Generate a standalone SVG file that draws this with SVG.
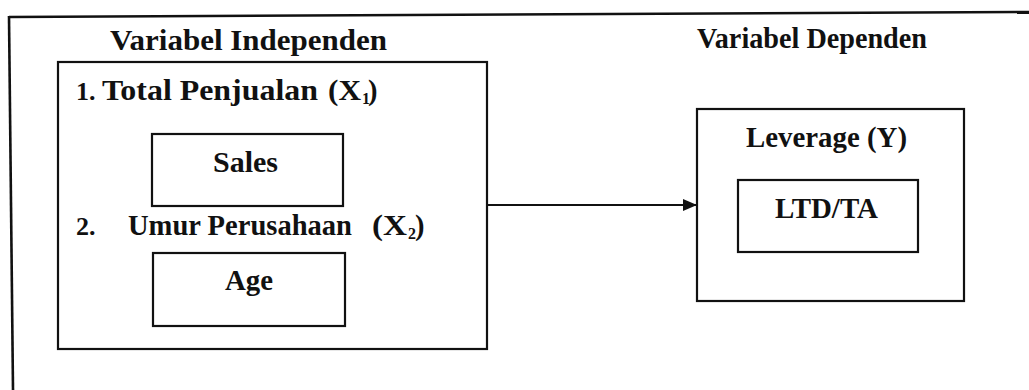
<svg xmlns="http://www.w3.org/2000/svg" width="1029" height="390" viewBox="0 0 1029 390">
  <style>
    .box { fill: none; stroke: #111; stroke-width: 2.2; }
    .frame { fill: none; stroke: #111; stroke-width: 2.6; }
    .lbl { font-family: "Liberation Serif", "Times New Roman", serif; font-weight: bold; font-size: 28.5px; fill: #111; }
    .num { font-family: "Liberation Serif", "Times New Roman", serif; font-weight: bold; font-size: 26px; fill: #111; }
    .sub { font-family: "Liberation Serif", "Times New Roman", serif; font-weight: bold; font-size: 16px; fill: #111; }
    .conn { stroke: #111; stroke-width: 2.2; fill: none; }
  </style>
  <defs>
    <marker id="arrowhead" markerWidth="14" markerHeight="12" refX="14" refY="6" orient="auto" markerUnits="userSpaceOnUse">
      <polygon points="0,0 14,6 0,12" fill="#111"/>
    </marker>
  </defs>
  <rect width="1029" height="390" fill="#ffffff"/>

  <!-- outer frame (top and left edges only) -->
  <g id="frame">
    <line class="frame" x1="9" y1="17" x2="1029" y2="12"/>
    <line class="frame" x1="9" y1="16" x2="13" y2="390"/>
  </g>

  <!-- independent variables -->
  <g id="independent">
    <text class="lbl" x="110" y="50" textLength="277" lengthAdjust="spacingAndGlyphs">Variabel Independen</text>
    <rect class="box" x="58" y="62" width="429" height="287"/>
    <text class="num" x="76" y="100">1.</text>
    <text class="lbl" x="102" y="100" textLength="216" lengthAdjust="spacingAndGlyphs">Total Penjualan</text>
    <text class="lbl" x="328" y="100" textLength="33" lengthAdjust="spacingAndGlyphs">(X</text>
    <text class="sub" x="362" y="104">1</text>
    <text class="lbl" x="368" y="100">)</text>
    <text class="num" x="76" y="235">2.</text>
    <text class="lbl" x="128" y="235" textLength="224" lengthAdjust="spacingAndGlyphs">Umur Perusahaan</text>
    <text class="lbl" x="372" y="235" textLength="35" lengthAdjust="spacingAndGlyphs">(X</text>
    <text class="sub" x="408" y="239">2</text>
    <text class="lbl" x="415" y="235">)</text>
  </g>

  <g id="sales">
    <rect class="box" x="152" y="134" width="191" height="72"/>
    <text class="lbl" x="245.5" y="172" text-anchor="middle" textLength="65" lengthAdjust="spacingAndGlyphs">Sales</text>
  </g>

  <g id="age">
    <rect class="box" x="153" y="253" width="192" height="73"/>
    <text class="lbl" x="249" y="290" text-anchor="middle" textLength="48" lengthAdjust="spacingAndGlyphs">Age</text>
  </g>

  <!-- dependent variable -->
  <g id="dependent">
    <text class="lbl" x="697" y="48" textLength="230" lengthAdjust="spacingAndGlyphs">Variabel Dependen</text>
    <rect class="box" x="697" y="109" width="267" height="192"/>
    <text class="lbl" x="746" y="147" textLength="161" lengthAdjust="spacingAndGlyphs">Leverage  (Y)</text>
  </g>

  <g id="ltd-ta">
    <rect class="box" x="738" y="180" width="180" height="72"/>
    <text class="lbl" x="775" y="218" textLength="103" lengthAdjust="spacingAndGlyphs">LTD/TA</text>
  </g>

  <g id="connectors">
    <line class="conn" x1="488" y1="205" x2="697" y2="205" marker-end="url(#arrowhead)"/>
  </g>
</svg>
